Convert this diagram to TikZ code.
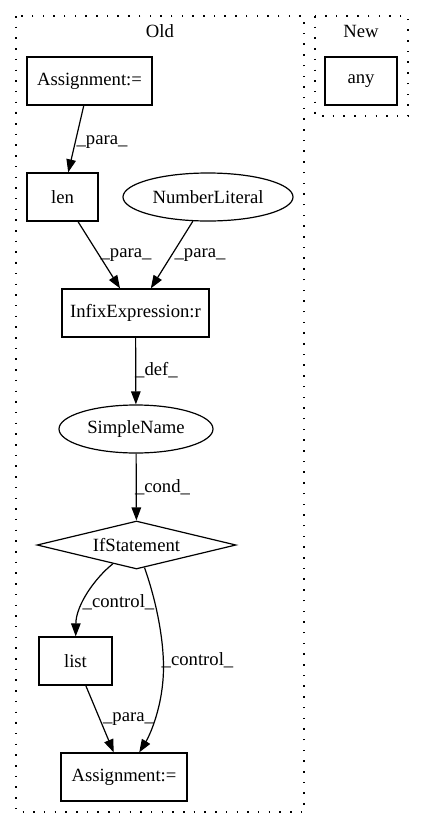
\documentclass[tikz,border=0pt]{standalone}
\usepackage{fontspec}
\setmainfont{Liberation Serif}
\usetikzlibrary{shapes.geometric,arrows.meta}
\tikzset{
  every node/.style={font=\fontsize{18.67}{22}\selectfont},
  boxnode/.style={draw, line width=1.2pt, rectangle, minimum height=48pt, inner sep=0pt},
  ellnode/.style={draw, line width=1.2pt, ellipse, minimum height=48pt, inner sep=0pt},
  cluster/.style={line width=1.3pt, dash pattern=on 1.5pt off 9.2pt},
  edge/.style={line width=1.2pt, -{Triangle[length=13pt,width=9.5pt]}},
  elabel/.style={inner sep=0pt}
}
\begin{document}
\begin{tikzpicture}[x=1pt,y=-1pt]
\useasboundingbox (0,0) rectangle (424,828);
% clusters
\draw[cluster] (16,16) rectangle (304,812);
\draw[cluster] (315,16) rectangle (408,116);
\node (oldlbl) at (160,31) {Old};
\node (newlbl) at (361,31) {New};
% nodes
\node[boxnode, minimum width=72pt] (any) at (361,81) {any};
\node[boxnode, minimum width=125pt] (a1) at (89.5,81) {Assignment:=};
\node[boxnode, minimum width=71pt] (len) at (62.5,197) {len};
\node[ellnode, minimum width=170pt] (nl) at (208,197) {NumberLiteral};
\node[boxnode, minimum width=147pt] (infix) at (135.5,313) {InfixExpression:r};
\node[ellnode, minimum width=154pt] (sn) at (136,429) {SimpleName};
\node[draw, line width=1.2pt, diamond, aspect=4.15, minimum width=199pt, minimum height=48pt, inner sep=0pt] (if) at (136.5,545) {IfStatement};
\node[boxnode, minimum width=73pt] (list) at (75.5,661) {list};
\node[boxnode, minimum width=126pt] (a2) at (124,777) {Assignment:=};
% edges
\draw[edge] (a1) -- (len);
\node[elabel] (l1) at (102,142) {\_para\_};
\draw[edge] (len) -- (infix);
\node[elabel] (l2) at (126,255) {\_para\_};
\draw[edge] (nl) -- (infix);
\node[elabel] (l3) at (200,255) {\_para\_};
\draw[edge] (infix) -- (sn);
\node[elabel] (l4) at (156.5,370) {\_def\_};
\draw[edge] (sn) -- (if);
\node[elabel] (l5) at (162.5,487) {\_cond\_};
\draw[edge] (if) .. controls (95,578) and (76,605) .. (list);
\node[elabel] (l6) at (118.5,602) {\_control\_};
\coordinate (mid) at (163.5,667);
\draw[edge] (if) .. controls (157,603) and (163.5,640) .. (mid) .. controls (163.5,705) and (150,735) .. (a2);
\node[elabel] (l7) at (197.5,660) {\_control\_};
\draw[edge] (list) -- (a2);
\node[elabel] (l8) at (128.5,719) {\_para\_};
\end{tikzpicture}
\end{document}
